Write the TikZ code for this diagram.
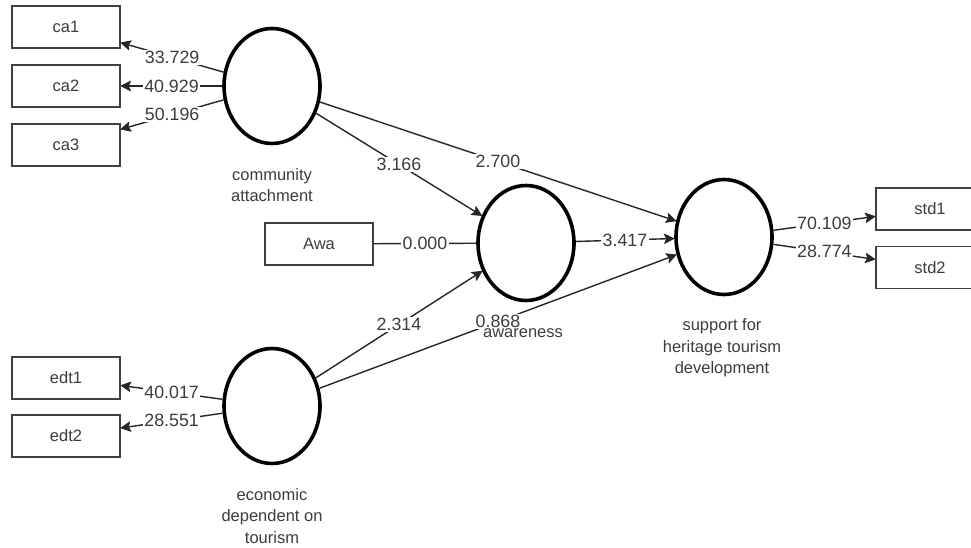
\documentclass[tikz,border=0pt]{standalone}
\usepackage{fontspec}
\setmainfont{Liberation Sans}
\usetikzlibrary{shapes.geometric,arrows.meta}
\definecolor{txt}{HTML}{3C3C3C}
\begin{document}
\begin{tikzpicture}[x=1pt,y=-1pt,
 lat/.style={ellipse,draw=black,line width=3.6pt,minimum width=96pt,minimum height=115pt,inner sep=0pt},
 ind/.style={draw=black!75,line width=1.5pt,minimum width=108pt,minimum height=42pt,inner sep=0pt,text=txt,font=\fontsize{16.5}{19}\selectfont},
 captext/.style={text=txt,align=center,font=\fontsize{16.5}{21.5}\selectfont},
 con/.style={draw=black!85,line width=1.4pt},
 arr/.style={con,-{Stealth[length=11pt,width=11pt,inset=2.5pt,line width=0.8pt,round]}},
 val/.style={midway,fill=white,inner sep=1.5pt,text=txt,font=\fontsize{17.8}{20}\selectfont}]
\useasboundingbox (0,0) rectangle (971,548);
% latent variables
\node[lat] (ca) at (272,86) {};
\node[lat] (aw) at (526,243) {};
\node[lat] (sup) at (724,237) {};
\node[lat] (edt) at (272,406) {};
% indicators
\node[ind] (ca1) at (66,27) {ca1};
\node[ind] (ca2) at (66,86) {ca2};
\node[ind] (ca3) at (66,145) {ca3};
\node[ind] (edt1) at (66,378) {edt1};
\node[ind] (edt2) at (66,436) {edt2};
\node[ind] (awa) at (319,244) {Awa};
\node[ind] (std1) at (930,209) {std1};
\node[ind] (std2) at (930,267.5) {std2};
% outer loadings
\draw[arr] (ca) -- (ca1) node[val] {33.729};
\draw[arr] (ca) -- (ca2) node[val] {40.929};
\draw[arr] (ca) -- (ca3) node[val] {50.196};
\draw[arr] (edt) -- (edt1) node[val] {40.017};
\draw[arr] (edt) -- (edt2) node[val] {28.551};
\draw[arr] (sup) -- (std1) node[val] {70.109};
\draw[arr] (sup) -- (std2) node[val] {28.774};
\draw[con] (awa) -- (aw) node[val] {0.000};
% structural paths
\draw[arr] (ca) -- (aw) node[val] {3.166};
\draw[arr] (ca) -- (sup) node[val] {2.700};
\draw[arr] (edt) -- (aw) node[val] {2.314};
\draw[arr] (edt) -- (sup) node[val] {0.868};
\draw[arr] (aw) -- (sup) node[val] {3.417};
% captions
\node[captext] (caL) at (272,185) {community\\attachment};
\node[captext] (awL) at (523,333) {awareness};
\node[captext] (supL) at (722,348) {support for\\heritage tourism\\development};
\node[captext] (edtL) at (272,516) {economic\\dependent on\\tourism};
\end{tikzpicture}
\end{document}
